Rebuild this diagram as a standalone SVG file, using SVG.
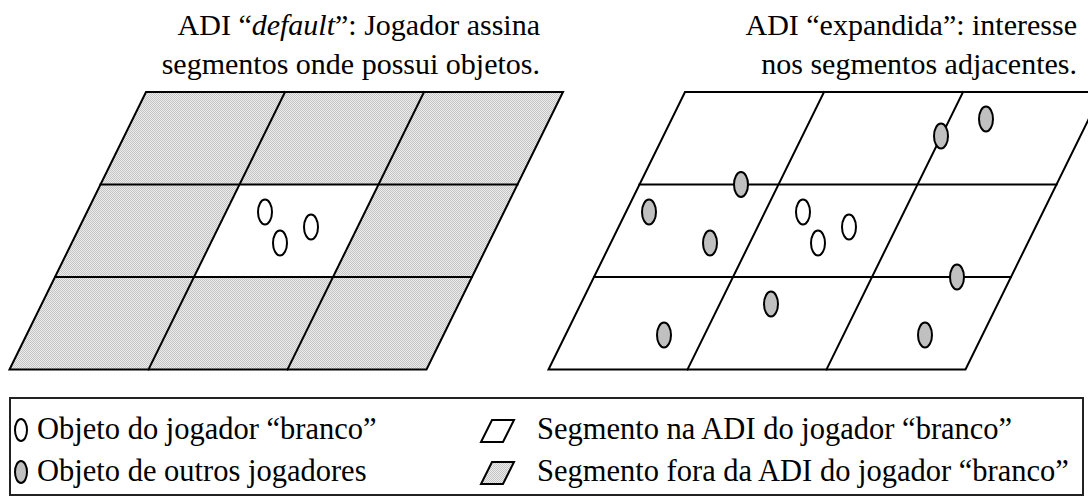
<svg xmlns="http://www.w3.org/2000/svg" width="1088" height="499" viewBox="0 0 1088 499">
<style>
text{font-family:"Liberation Serif","Times New Roman",serif;fill:#000}
.t{font-size:30px}
.l{font-size:30.5px}
.grid{stroke:#000;stroke-width:2;fill:none;stroke-linecap:square}
.w{fill:#fff;stroke:#000;stroke-width:2}
.g{fill:#c0c0c0;stroke:#000;stroke-width:2}
.sh{fill:url(#dots)}
</style>
<defs>
<pattern id="dots" width="2" height="2" patternUnits="userSpaceOnUse">
<rect width="2" height="2" fill="#ececec"/>
<rect width="1" height="1" fill="#c4c4c4"/>
<rect x="1" y="1" width="1" height="1" fill="#c4c4c4"/>
</pattern>
</defs>
<rect width="1088" height="499" fill="#fff"/>

<g id="title-default">
<text class="t" x="540" y="35" text-anchor="end">ADI “<tspan font-style="italic">default</tspan>”: Jogador assina</text>
<text class="t" x="540" y="74" text-anchor="end">segmentos onde possui objetos.</text>
</g>
<g id="title-expandida">
<text class="t" x="1077" y="35" text-anchor="end">ADI “expandida”: interesse</text>
<text class="t" x="1077" y="74" text-anchor="end">nos segmentos adjacentes.</text>
</g>

<g id="grid-default">
<polygon class="sh" points="146,92 563,92 426.5,369.5 9.5,369.5"/>
<polygon fill="#fff" points="239.5,184.5 378.5,184.5 333,277 194,277"/>
<g class="grid">
<polygon points="146,92 563,92 426.5,369.5 9.5,369.5"/>
<line x1="100.5" y1="184.5" x2="517.5" y2="184.5"/>
<line x1="55" y1="277" x2="472" y2="277"/>
<line x1="285" y1="92" x2="148.5" y2="369.5"/>
<line x1="424" y1="92" x2="287.5" y2="369.5"/>
</g>
<ellipse class="w" cx="265" cy="212" rx="7" ry="12.5"/>
<ellipse class="w" cx="280" cy="243" rx="7" ry="12.5"/>
<ellipse class="w" cx="311" cy="227" rx="7" ry="12.5"/>
</g>

<g id="grid-expandida">
<polygon fill="#fff" points="685,92 1102,92 965.5,369.5 548.5,369.5"/>
<g class="grid">
<polygon points="685,92 1102,92 965.5,369.5 548.5,369.5"/>
<line x1="639.5" y1="184.5" x2="1056.5" y2="184.5"/>
<line x1="594" y1="277" x2="1011" y2="277"/>
<line x1="824" y1="92" x2="687.5" y2="369.5"/>
<line x1="963" y1="92" x2="826.5" y2="369.5"/>
</g>
<ellipse class="w" cx="803" cy="212" rx="7" ry="12.5"/>
<ellipse class="w" cx="818" cy="243" rx="7" ry="12.5"/>
<ellipse class="w" cx="849" cy="227" rx="7" ry="12.5"/>
<ellipse class="g" cx="941" cy="136" rx="7" ry="12.5"/>
<ellipse class="g" cx="986" cy="119" rx="7" ry="12.5"/>
<ellipse class="g" cx="741" cy="184.5" rx="7" ry="12.5"/>
<ellipse class="g" cx="649" cy="212" rx="7" ry="12.5"/>
<ellipse class="g" cx="710" cy="243" rx="7" ry="12.5"/>
<ellipse class="g" cx="957" cy="277" rx="7" ry="12.5"/>
<ellipse class="g" cx="771" cy="304" rx="7" ry="12.5"/>
<ellipse class="g" cx="664" cy="335" rx="7" ry="12.5"/>
<ellipse class="g" cx="925" cy="335" rx="7" ry="12.5"/>
</g>

<g id="legend">
<rect x="10" y="398" width="1073" height="97" fill="none" stroke="#222" stroke-width="2"/>
<ellipse class="w" cx="21" cy="430" rx="6" ry="11"/>
<text class="l" x="37" y="439">Objeto do jogador “branco”</text>
<ellipse class="g" cx="21" cy="472" rx="6" ry="11"/>
<text class="l" x="37" y="481">Objeto de outros jogadores</text>
<polygon class="w" points="492,420 514,420 503,442 481,442"/>
<text class="l" x="537" y="439">Segmento na ADI do jogador “branco”</text>
<polygon class="sh" stroke="#000" stroke-width="2" points="492,462 514,462 503,484 481,484"/>
<text class="l" x="537" y="481">Segmento fora da ADI do jogador “branco”</text>
</g>
</svg>
